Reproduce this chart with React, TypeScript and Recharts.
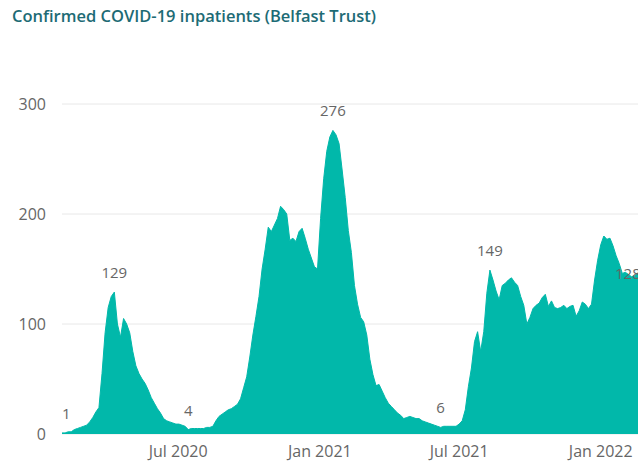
import React from 'react';
import { AreaChart, Area, XAxis, YAxis, CartesianGrid, LabelList } from 'recharts';

// daily inpatients, read every 4th day starting from startDate
const startDate = '2020-02-01';
const stepDays = 4;
const inpatients = [
  1, 1, 2, 2, 4, 5, 6, 7, 8, 11,
  15, 20, 24, 55, 92, 115, 125, 129, 100, 88,
  105, 100, 92, 75, 62, 55, 50, 46, 40, 33,
  28, 23, 19, 14, 12, 11, 10, 9, 9, 8,
  7, 4, 5, 5, 5, 5, 5, 6, 6, 7,
  12, 16, 18, 20, 22, 23, 25, 27, 32, 42,
  52, 70, 90, 107, 125, 150, 168, 188, 184, 190,
  196, 207, 204, 200, 176, 178, 175, 184, 187, 178,
  168, 160, 152, 150, 196, 232, 257, 270, 276, 272,
  264, 240, 215, 185, 165, 135, 118, 106, 102, 90,
  68, 54, 44, 45, 39, 33, 28, 25, 22, 19,
  17, 14, 15, 16, 15, 14, 14, 12, 11, 10,
  9, 8, 7, 6, 7, 7, 7, 7, 7, 9,
  12, 22, 43, 60, 84, 93, 75, 93, 128, 149,
  140, 130, 122, 135, 137, 140, 142, 138, 135, 125,
  117, 100, 106, 114, 117, 119, 124, 127, 116, 121,
  115, 114, 115, 117, 114, 116, 117, 107, 112, 120,
  118, 114, 118, 140, 158, 172, 180, 177, 178, 171,
  162, 155, 146, 147, 145, 143, 144, 146, 128,
];

// points that carry a data label
const labelledDates = ['2020-02-01', '2020-04-09', '2020-07-14', '2021-01-18', '2021-06-07', '2021-08-10', '2022-02-22'];

const xTickDates = ['2020-07-01', '2021-01-01', '2021-07-01', '2022-01-01'];
const xDomainEnd = '2022-03-19';
const yTicks = [0, 100, 200, 300];
const monthNames = ['Jan', 'Feb', 'Mar', 'Apr', 'May', 'Jun', 'Jul', 'Aug', 'Sep', 'Oct', 'Nov', 'Dec'];

const DAY = 86400000;
const t0 = Date.parse(startDate);
const data = inpatients.map((v, i) => ({ t: t0 + i * stepDays * DAY, v }));
const labelledTimes = new Set(labelledDates.map((d) => Date.parse(d)));

const fmtDate = (t: number) => {
  const d = new Date(t);
  return `${monthNames[d.getUTCMonth()]} ${d.getUTCFullYear()}`;
};

const FONT = '"Open Sans", "Noto Sans", sans-serif';
const AXIS_GREY = '#666666';

const PointLabel = (props: any) => {
  const { x, y, index } = props;
  const row = data[index];
  if (!row || !labelledTimes.has(row.t)) return null;
  // keep first / last labels inside the plot, like the original
  let anchor: 'start' | 'middle' | 'end' = 'middle';
  if (index === 0) anchor = 'start';
  else if (index === data.length - 1) anchor = 'end';
  return (
    <text x={x} y={y - 14} textAnchor={anchor} fill={AXIS_GREY} fontSize={15} fontFamily={FONT}>
      {row.v}
    </text>
  );
};

export default function App() {
  return (
    <div
      style={{
        position: 'fixed',
        left: 0,
        top: 0,
        width: 638,
        height: 463,
        overflow: 'hidden',
        background: '#fff',
        fontFamily: FONT,
      }}
    >
      <div
        style={{
          position: 'absolute',
          left: 12,
          top: 4,
          fontSize: 16.5,
          lineHeight: '24px',
          fontWeight: 600,
          color: '#1d6b75',
          whiteSpace: 'nowrap',
          zIndex: 1,
        }}
      >
        Confirmed COVID-19 inpatients (Belfast Trust)
      </div>
      <div style={{ position: 'absolute', left: 0, top: 0 }}>
        <AreaChart width={660} height={463} data={data} margin={{ top: 104, right: 0, bottom: 0, left: 0 }}>
          <CartesianGrid vertical={false} stroke="#e8e8e8" />
          <XAxis
            dataKey="t"
            type="number"
            domain={[t0, Date.parse(xDomainEnd)]}
            ticks={xTickDates.map((d) => Date.parse(d))}
            tickFormatter={fmtDate}
            axisLine={false}
            tickLine={false}
            tickSize={0}
            tickMargin={12}
            height={29}
            tick={{ fill: AXIS_GREY, fontSize: 16, fontFamily: FONT }}
          />
          <YAxis
            type="number"
            domain={[0, 300]}
            ticks={yTicks}
            axisLine={false}
            tickLine={false}
            tickSize={0}
            tickMargin={16}
            width={62}
            tick={{ fill: AXIS_GREY, fontSize: 16, fontFamily: FONT }}
          />
          <Area
            type="linear"
            dataKey="v"
            stroke="#01b8aa"
            strokeWidth={1}
            fill="#01b8aa"
            fillOpacity={1}
            isAnimationActive={false}
          >
            <LabelList dataKey="v" content={PointLabel} />
          </Area>
        </AreaChart>
      </div>
    </div>
  );
}
